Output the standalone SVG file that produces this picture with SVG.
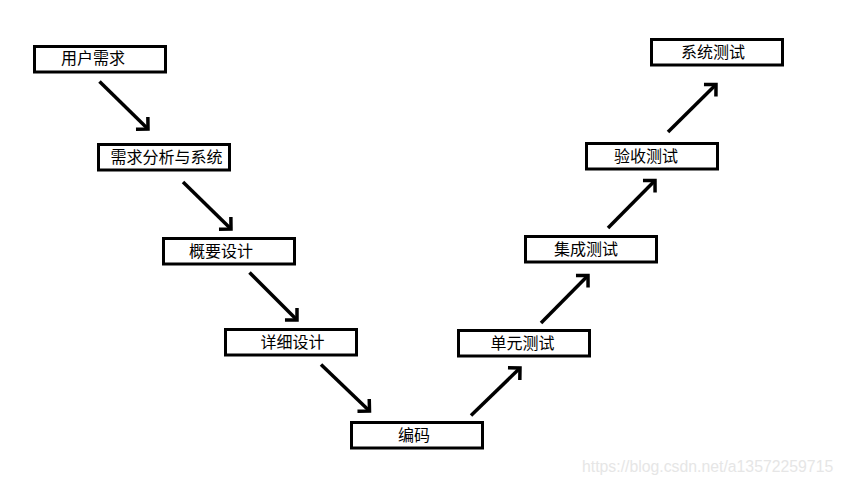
<svg xmlns="http://www.w3.org/2000/svg" width="844" height="486" viewBox="0 0 844 486">
  <style>
    .box { fill: #ffffff; stroke: #000000; stroke-width: 3; }
    .lbl { font-family: "Noto Sans CJK SC", "Microsoft YaHei", sans-serif; font-size: 16px; fill: #000000; }
    .conn { stroke: #000000; stroke-width: 3.5; fill: none; marker-end: url(#arr); }
    .wm { font-family: "Liberation Sans", Arial, sans-serif; font-size: 15.8px; fill: #e6e6e6; }
  </style>
  <defs>
    <marker id="arr" markerUnits="userSpaceOnUse" viewBox="-14 -12 18 24" refX="0" refY="0" markerWidth="18" markerHeight="24" orient="auto">
      <path d="M-8.5,-8.5 L0,0 L-8.5,8.5" fill="none" stroke="#000000" stroke-width="3.5" stroke-linejoin="miter"/>
    </marker>
  </defs>
  <rect x="0" y="0" width="844" height="486" fill="#ffffff"/>

  <g id="n1">
    <rect class="box" x="34.5" y="46.5" width="131" height="25.5"/>
    <text class="lbl" x="61" y="64">用户需求</text>
  </g>
  <g id="n2">
    <rect class="box" x="98.5" y="144.5" width="131" height="25.5"/>
    <text class="lbl" x="110.5" y="162.5">需求分析与系统</text>
  </g>
  <g id="n3">
    <rect class="box" x="163.5" y="238.5" width="131" height="25.5"/>
    <text class="lbl" x="189" y="256.5">概要设计</text>
  </g>
  <g id="n4">
    <rect class="box" x="225.5" y="329.5" width="131" height="25.5"/>
    <text class="lbl" x="260.5" y="347.5">详细设计</text>
  </g>
  <g id="n5">
    <rect class="box" x="351.5" y="422.5" width="131" height="25.5"/>
    <text class="lbl" x="398" y="440.5">编码</text>
  </g>
  <g id="n6">
    <rect class="box" x="458.5" y="330.5" width="131" height="25.5"/>
    <text class="lbl" x="490.5" y="348.5">单元测试</text>
  </g>
  <g id="n7">
    <rect class="box" x="525.5" y="236.5" width="131" height="25.5"/>
    <text class="lbl" x="554" y="254.5">集成测试</text>
  </g>
  <g id="n8">
    <rect class="box" x="586.5" y="143.5" width="131" height="25.5"/>
    <text class="lbl" x="614" y="161.5">验收测试</text>
  </g>
  <g id="n9">
    <rect class="box" x="651.5" y="39.5" width="131" height="25.5"/>
    <text class="lbl" x="681" y="57.5">系统测试</text>
  </g>

  <g id="connectors">
    <line class="conn" x1="99.5" y1="81.5" x2="148" y2="129"/>
    <line class="conn" x1="183" y1="182" x2="231" y2="229"/>
    <line class="conn" x1="249.5" y1="272.5" x2="297" y2="320"/>
    <line class="conn" x1="321" y1="364.5" x2="369.5" y2="411"/>
    <line class="conn" x1="471" y1="415.5" x2="520" y2="368"/>
    <line class="conn" x1="541" y1="323" x2="588" y2="275.5"/>
    <line class="conn" x1="608" y1="228" x2="655" y2="180.5"/>
    <line class="conn" x1="668" y1="132" x2="716" y2="84.5"/>
  </g>

  <text class="wm" x="582" y="472">https://blog.csdn.net/a13572259715</text>
</svg>
